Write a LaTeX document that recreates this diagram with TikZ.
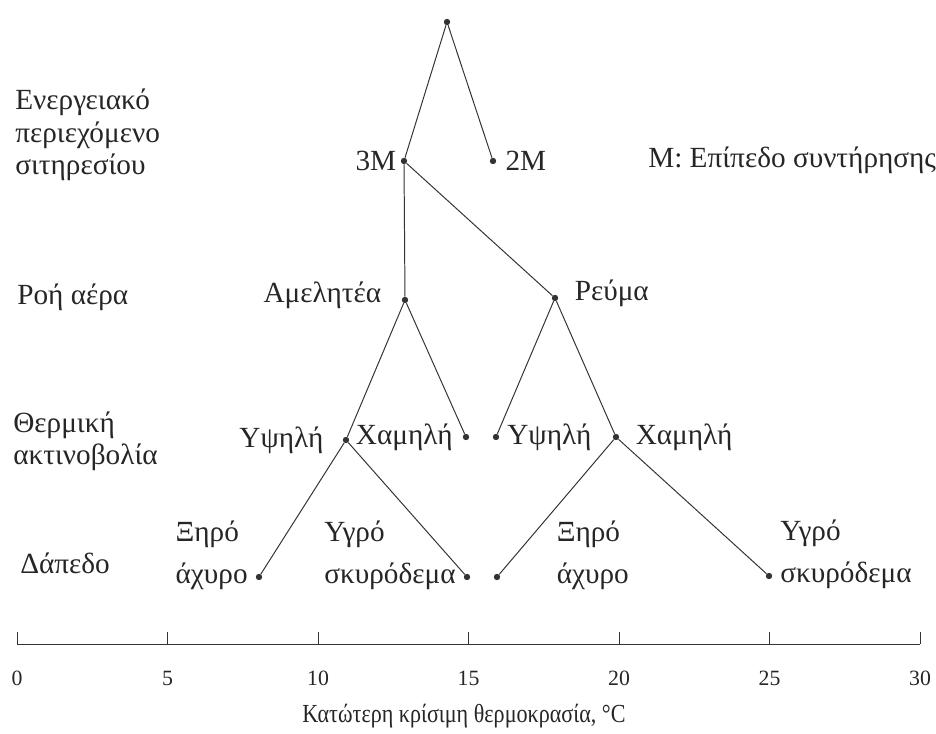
\documentclass[tikz,border=0pt]{standalone}
\usepackage{fontspec}
\setmainfont{Liberation Serif}
\usepackage{tikz}
\usetikzlibrary{positioning, calc}

\begin{document}
\begin{tikzpicture}[x=0.025cm, y=-0.025cm]
        \tikzstyle{dot} = [circle, fill=black!80, inner sep=0pt, minimum size=0.16cm]
        \tikzstyle{lbl} = [inner sep=0pt, font=\fontsize{20.8}{23}\selectfont, text=black!85]
        \tikzstyle{lbl2} = [lbl, align=left, yshift=0.54cm]
        \tikzstyle{num} = [inner sep=0pt, font=\fontsize{15.5}{18}\selectfont, text=black!85]
        \tikzstyle{branch} = [draw=black!80, line width=0.7pt]

        \useasboundingbox (0,0) rectangle (936,734);

        % Κόμβοι του δέντρου
        \node [dot] (root) at (447,22) {};
        \node [dot] (m3) at (404,161) {};
        \node [dot] (m2) at (493,161) {};
        \node [dot] (negl) at (405,300) {};
        \node [dot] (draft) at (555,298) {};
        \node [dot] (highA) at (346,440) {};
        \node [dot] (lowA) at (466,437) {};
        \node [dot] (highB) at (496,437) {};
        \node [dot] (lowB) at (616,437) {};
        \node [dot] (dryA) at (259,577) {};
        \node [dot] (wetA) at (467,577) {};
        \node [dot] (dryB) at (497,577) {};
        \node [dot] (wetB) at (769,576) {};

        % Κλαδιά
        \draw [branch] (root) -- (m3);
        \draw [branch] (root) -- (m2);
        \draw [branch] (m3) -- (negl);
        \draw [branch] (m3) -- (draft);
        \draw [branch] (negl) -- (highA);
        \draw [branch] (negl) -- (lowA);
        \draw [branch] (draft) -- (highB);
        \draw [branch] (draft) -- (lowB);
        \draw [branch] (highA) -- (dryA);
        \draw [branch] (highA) -- (wetA);
        \draw [branch] (lowB) -- (dryB);
        \draw [branch] (lowB) -- (wetB);

        % Ετικέτες κόμβων
        \node [lbl, left=0.1cm of m3] (t3M) {3M};
        \node [lbl, right=0.22cm of m2] (t2M) {2M};
        \node [lbl, left=0.5cm of negl, yshift=0.12cm] (tNegl) {Αμελητέα};
        \node [lbl, right=0.4cm of draft, yshift=0.12cm] (tDraft) {Ρεύμα};
        \node [lbl, left=0.47cm of highA] (tHighA) {Υψηλή};
        \node [lbl, left=0.24cm of lowA] (tLowA) {Χαμηλή};
        \node [lbl, right=0.19cm of highB] (tHighB) {Υψηλή};
        \node [lbl, right=0.4cm of lowB] (tLowB) {Χαμηλή};
        \node [lbl2, left=0.19cm of dryA] (tDryA) {Ξηρό\\[0.24cm]άχυρο};
        \node [lbl2, left=0.19cm of wetA] (tWetA) {Υγρό\\[0.24cm]σκυρόδεμα};
        \node [lbl2, right=1.4cm of dryB] (tDryB) {Ξηρό\\[0.24cm]άχυρο};
        \node [lbl2, right=0.19cm of wetB] (tWetB) {Υγρό\\[0.24cm]σκυρόδεμα};

        % Επίπεδα απόφασης
        \node [lbl, anchor=west, align=left] (hEnergy) at (15,135) {Ενεργειακό\\περιεχόμενο\\σιτηρεσίου};
        \node [lbl, anchor=west] (hAir) at (17,297) {Ροή αέρα};
        \node [lbl, anchor=west, align=left] (hRad) at (13,441) {Θερμική\\ακτινοβολία};
        \node [lbl, anchor=west] (hFloor) at (20,563) {Δάπεδο};
        \node [lbl, anchor=west] (legend) at (648,160) {M: Επίπεδο συντήρησης};

        % Άξονας θερμοκρασίας
        \draw [branch] (17,644) -- (920,644);
        \foreach \t in {0,5,...,30} {
            \draw [branch] ({17+30.1*\t},644) -- ({17+30.1*\t},632);
            \node [num] (tick\t) at ({17+30.1*\t},678) {\t};
        }
        \node [lbl, font=\fontsize{18.5}{20}\selectfont] (xtitle) at (464,716) {\scalebox{0.85}[1]{Κατώτερη κρίσιμη θερμοκρασία, °C}};

    \end{tikzpicture}
\end{document}
